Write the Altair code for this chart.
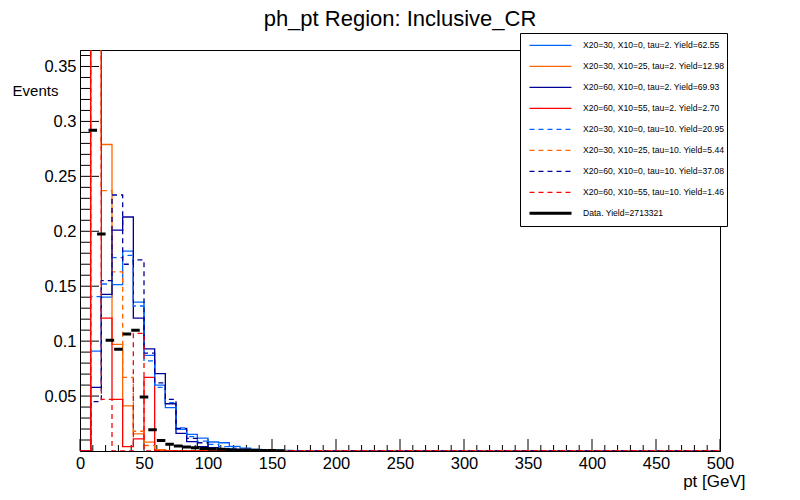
import altair as alt
import pandas as pd

# ---------------- data ----------------
X_MAX = 500.0
N_MC = 60          # MC histograms: 60 bins of 8.33 GeV
N_DATA = 75        # data histogram: 75 bins of 6.67 GeV
Y_MAX = 0.365

labels = [
    "X20=30, X10=0, tau=2. Yield=62.55",
    "X20=30, X10=25, tau=2. Yield=12.98",
    "X20=60, X10=0, tau=2. Yield=69.93",
    "X20=60, X10=55, tau=2. Yield=2.70",
    "X20=30, X10=0, tau=10. Yield=20.95",
    "X20=30, X10=25, tau=10. Yield=5.44",
    "X20=60, X10=0, tau=10. Yield=37.08",
    "X20=60, X10=55, tau=10. Yield=1.46",
    "Data. Yield=2713321",
]
colors = ["#0064ff", "#ff6600", "#000099", "#ff0000",
          "#0064ff", "#ff6600", "#000099", "#ff0000", "#000000"]
dashes = [[1, 0]] * 4 + [[5, 4]] * 4 + [[1, 0]]
widths = [1.3] * 8 + [3]

blue_t2 = [0, 0.091, 0.140, 0.1515, 0.182, 0.1355, 0.087, 0.060, 0.0395, 0.0197,
           0.0152, 0.0118, 0.0082, 0.0075, 0.0042, 0.0026, 0.0015, 0.0012, 0.0008, 0.0005, 0.0003]
orange_t2 = [0, 0.557, 0.279, 0.097, 0.041, 0.0155, 0.008, 0.0012]
navy_t2 = [0, 0.058, 0.1425, 0.201, 0.213, 0.121, 0.093, 0.0705, 0.043, 0.016,
           0.0085, 0.004, 0.003, 0.002, 0.0012, 0.0008, 0.0004]
red_t2 = [0, 0.750, 0.121, 0.047, 0.004, 0.011, 0.067]
blue_t10 = [0, 0.1406, 0.152, 0.176, 0.178, 0.132, 0.082, 0.058, 0.044, 0.021,
            0.013, 0.009, 0.006, 0.004, 0.0025, 0.0015, 0.001]
orange_t10 = [0, 0.510, 0.237, 0.163, 0.067, 0.018, 0.005, 0.001]
navy_t10 = [0, 0.045, 0.155, 0.233, 0.170, 0.174, 0.089, 0.062, 0.047, 0.0206,
            0.0115, 0.0075, 0.003, 0.002, 0.001]
red_t10 = [0, 0.846, 0.047, 0.0, 0.0, 0.107, 0.0]

data_vals = [0, 0.292, 0.1975, 0.1007, 0.0926, 0.1064, 0.1098, 0.0492, 0.0193, 0.0095,
             0.0062, 0.0045, 0.0036, 0.0030, 0.0022, 0.0018, 0.0015, 0.0012, 0.0010,
             0.0008, 0.0006, 0.0005, 0.0004, 0.0003]

x_major = [0, 50, 100, 150, 200, 250, 300, 350, 400, 450, 500]
x_minor = [10, 20, 30, 40, 60, 70, 80, 90, 110, 120, 130, 140, 160, 170, 180, 190,
           210, 220, 230, 240, 260, 270, 280, 290, 310, 320, 330, 340, 360, 370, 380,
           390, 410, 420, 430, 440, 460, 470, 480, 490]
y_major = [0.05, 0.1, 0.15, 0.2, 0.25, 0.3, 0.35]
y_minor = [0.01, 0.02, 0.03, 0.04, 0.06, 0.07, 0.08, 0.09, 0.11, 0.12, 0.13, 0.14,
           0.16, 0.17, 0.18, 0.19, 0.21, 0.22, 0.23, 0.24, 0.26, 0.27, 0.28, 0.29,
           0.31, 0.32, 0.33, 0.34, 0.36]

mc_series = [blue_t2, orange_t2, navy_t2, red_t2, blue_t10, orange_t10, navy_t10, red_t10]

# ---------------- tables ----------------
mc_edges = [X_MAX * i / N_MC for i in range(N_MC + 1)]
data_edges = [X_MAX * i / N_DATA for i in range(N_DATA + 1)]


def step_table(vals, label):
    full = list(vals) + [0.0] * (N_MC - len(vals))
    rows = [{"x": mc_edges[i], "y": full[i], "series": label, "k": i} for i in range(N_MC)]
    rows.append({"x": mc_edges[N_MC], "y": full[-1], "series": label, "k": N_MC})
    return pd.DataFrame(rows)


data_df = pd.DataFrame([
    {"x": data_edges[i], "x2": data_edges[i + 1], "y": v, "series": labels[8]}
    for i, v in enumerate(data_vals) if v > 0
])

FONT = "Liberation Sans"

xscale = alt.Scale(domain=[0, X_MAX], nice=False, zero=False)
yscale = alt.Scale(domain=[0, Y_MAX], nice=False, zero=False)


def X(field="x"):
    return alt.X(f"{field}:Q", scale=xscale,
                 axis=alt.Axis(values=x_major, format="d", tickSize=0, grid=False,
                               labelFontSize=16.5, labelFont=FONT, labelColor="black",
                               labelPadding=4, domainColor="black",
                               title="pt [GeV]", titleFont=FONT, titleFontSize=17,
                               titleFontWeight="normal", titleColor="black",
                               titleAlign="right", titleBaseline="middle",
                               titleX=665, titleY=30, labelFlush=False))


def Y(field="y"):
    return alt.Y(f"{field}:Q", scale=yscale,
                 axis=alt.Axis(values=y_major, format="~g", tickSize=0, grid=False,
                               labelFontSize=16.5, labelFont=FONT, labelColor="black",
                               labelPadding=4, domainColor="black",
                               title="Events", titleFont=FONT, titleFontSize=15,
                               titleFontWeight="normal", titleColor="black",
                               titleAngle=0, titleAlign="center", titleBaseline="middle",
                               titleX=-45, titleY=40))


leg = alt.Legend(title=None, orient="none", legendX=440, legendY=-17,
                 symbolType="stroke", symbolSize=1764, symbolOffset=6,
                 labelOffset=10, labelFontSize=8.6, labelFont=FONT, labelColor="black",
                 padding=2, rowPadding=0, clipHeight=20.6, fillColor="white",
                 strokeColor="black", labelLimit=400, cornerRadius=0)


def ser_enc():
    return dict(
        color=alt.Color("series:N", scale=alt.Scale(domain=labels, range=colors), legend=leg),
        strokeDash=alt.StrokeDash("series:N", scale=alt.Scale(domain=labels, range=dashes), legend=leg),
        strokeWidth=alt.StrokeWidth("series:N", scale=alt.Scale(type="ordinal", domain=labels, range=widths), legend=leg),
    )


layers = []

# inward tick marks
ymaj_df = pd.DataFrame({"y": y_major})
ymin_df = pd.DataFrame({"y": y_minor})
xmaj_df = pd.DataFrame({"x": x_major})
xmin_df = pd.DataFrame({"x": x_minor})
layers.append(alt.Chart(ymaj_df).mark_rule(color="black", strokeWidth=1).encode(
    y=Y(), x=alt.value(0), x2=alt.value(19)))
layers.append(alt.Chart(ymin_df).mark_rule(color="black", strokeWidth=1).encode(
    y=Y(), x=alt.value(0), x2=alt.value(10)))
layers.append(alt.Chart(xmaj_df).mark_rule(color="black", strokeWidth=1).encode(
    x=X(), y=alt.value(401), y2=alt.value(389)))
layers.append(alt.Chart(xmin_df).mark_rule(color="black", strokeWidth=1).encode(
    x=X(), y=alt.value(401), y2=alt.value(395)))

for vals, lab in zip(mc_series, labels[:8]):
    layers.append(
        alt.Chart(step_table(vals, lab))
        .mark_line(interpolate="step-after", clip=True)
        .encode(x=X(), y=Y(), order="k:Q", **ser_enc())
    )

layers.append(
    alt.Chart(data_df).mark_rule(clip=True).encode(
        x=X(), x2="x2:Q", y=Y(), **ser_enc())
)

chart = (
    alt.layer(*layers)
    .properties(
        width=640, height=401,
        title=alt.TitleParams("ph_pt Region: Inclusive_CR", font=FONT, fontSize=22,
                              fontWeight="normal", color="black", anchor="middle",
                              baseline="middle", offset=-8),
        padding={"left": 72, "top": 42, "right": 72, "bottom": 41},
        autosize="none",
        background="white",
    )
    .configure_view(stroke="black", strokeWidth=1)
)

chart.save("out.html", embed_options={"renderer": "svg", "actions": False})
